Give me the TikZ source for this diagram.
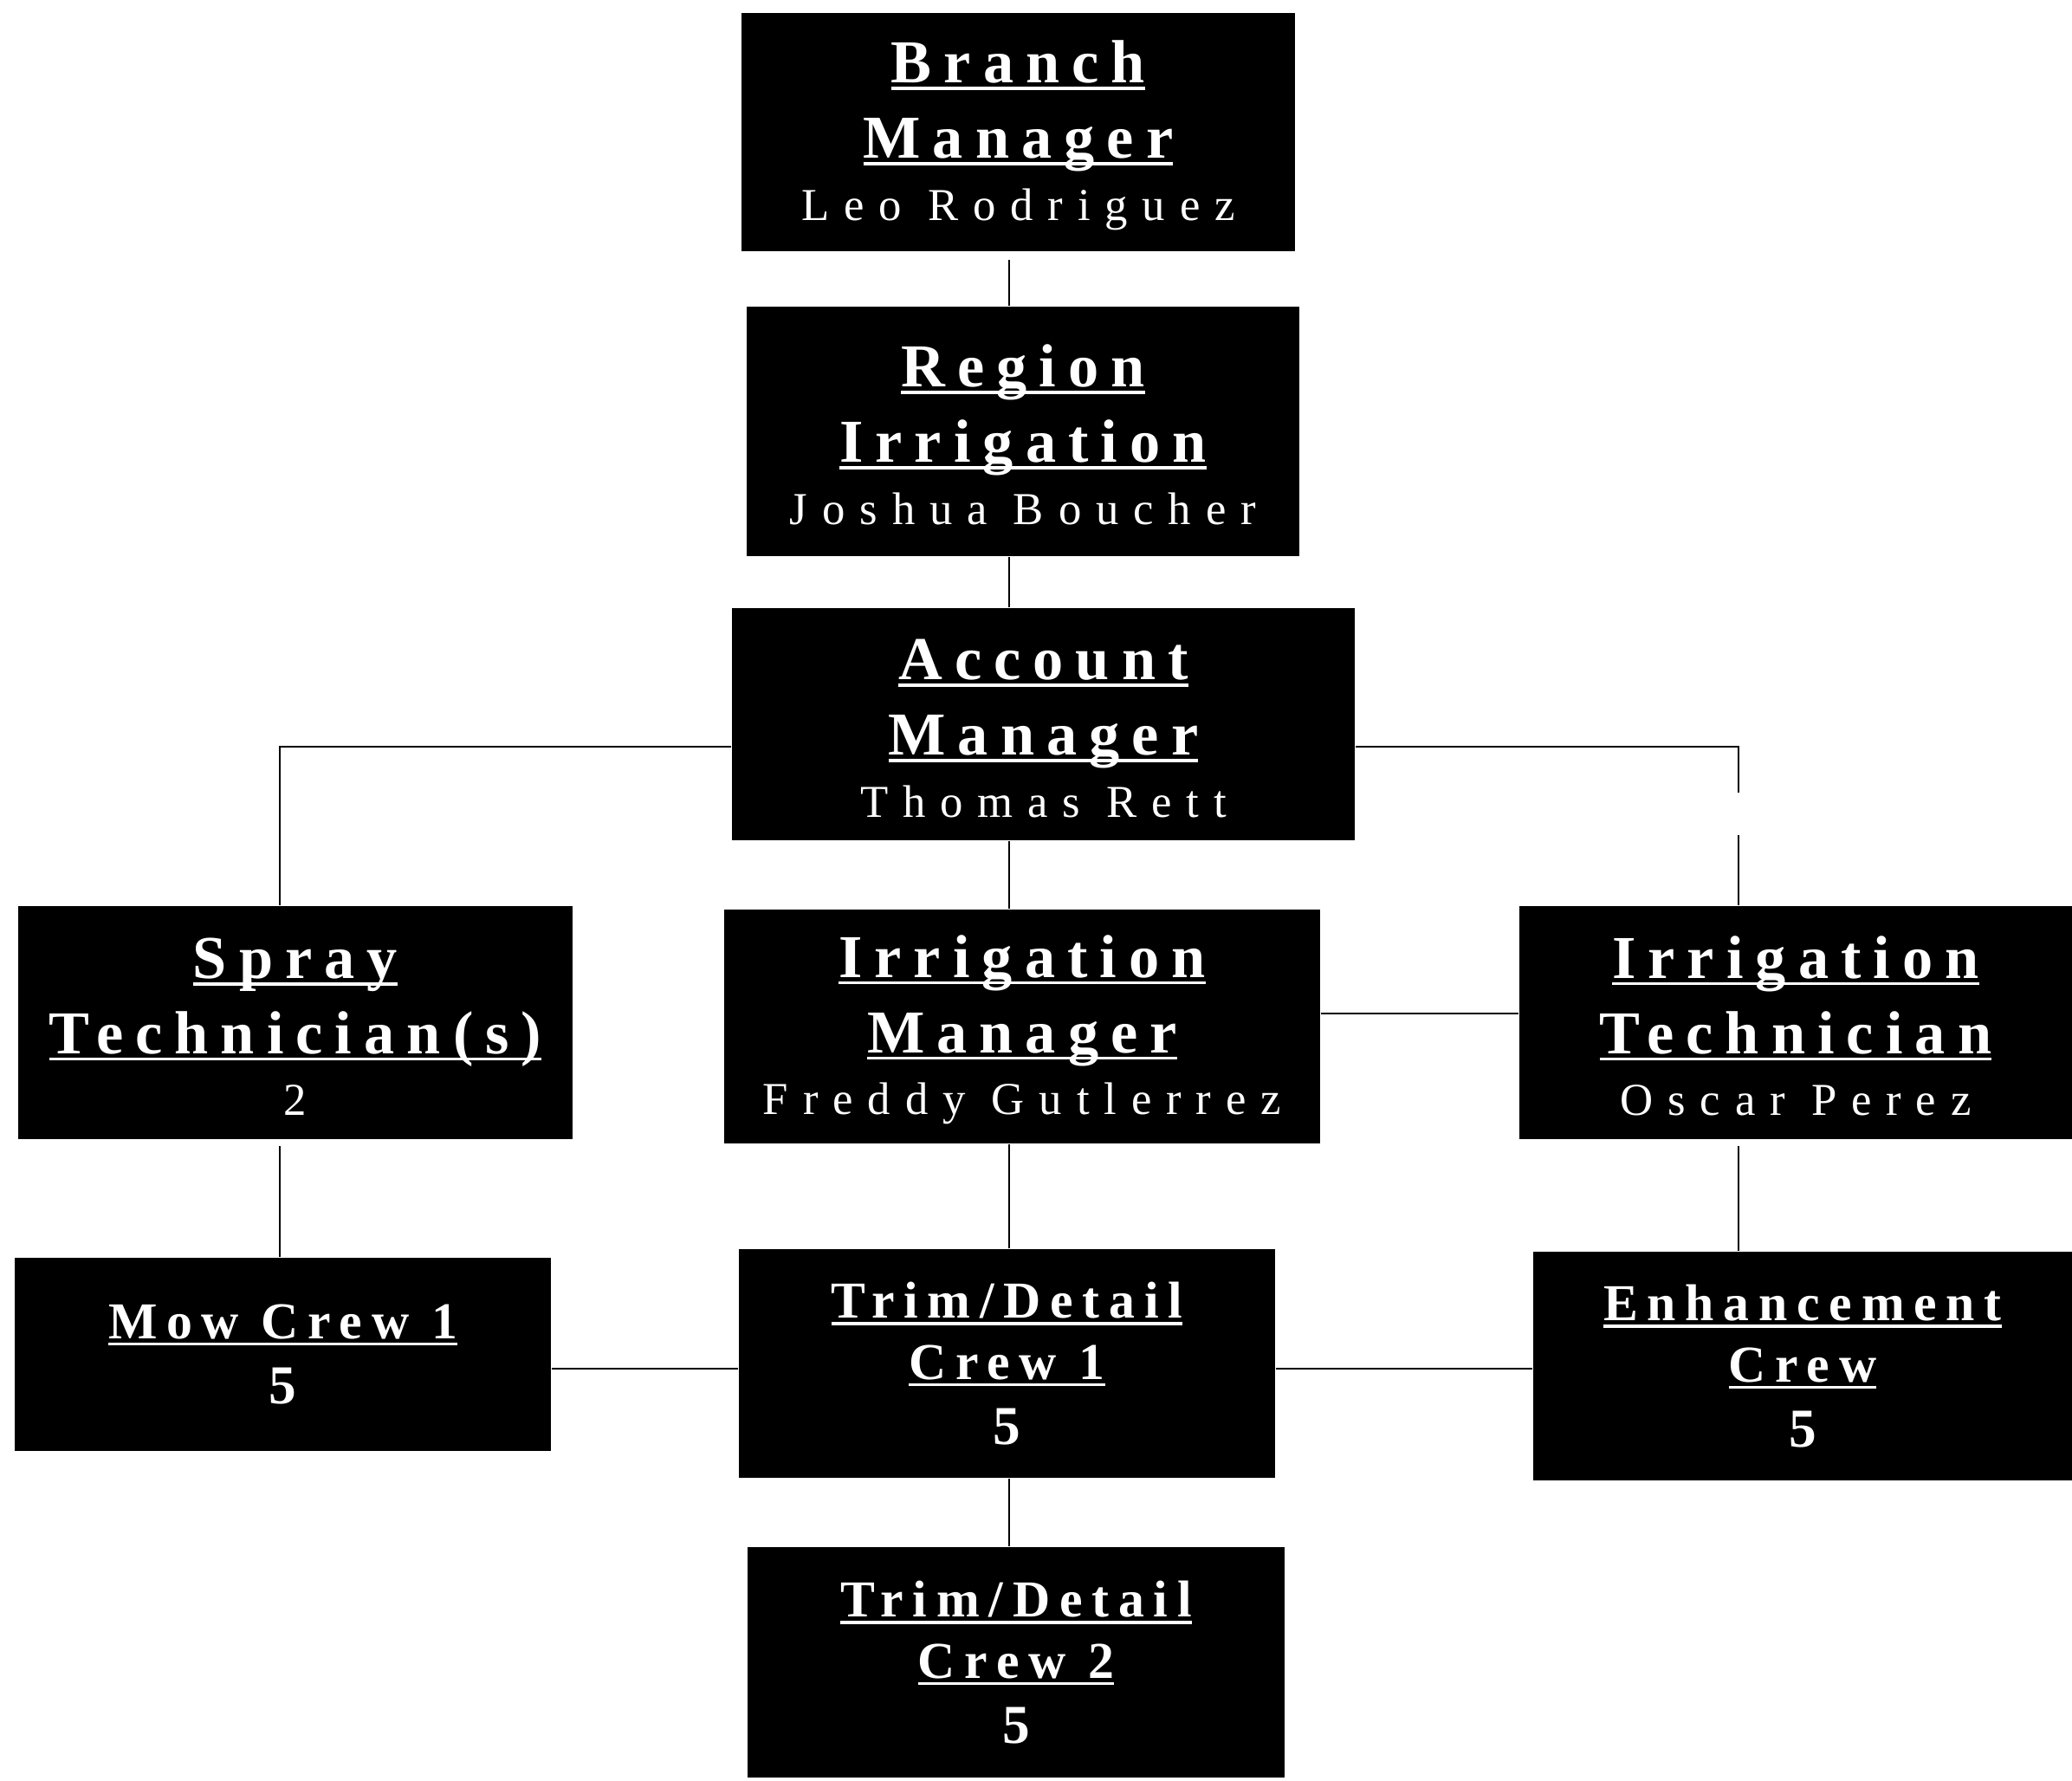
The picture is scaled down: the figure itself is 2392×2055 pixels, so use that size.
\documentclass[tikz,border=0pt]{standalone}
\usepackage{fontspec}
\setmainfont{Liberation Serif}
\newfontfamily\titlefont[LetterSpace=20]{Liberation Serif}
\newfontfamily\namefont[LetterSpace=32]{Liberation Serif}
\newfontfamily\crewfont[LetterSpace=18]{Liberation Serif}
\usetikzlibrary{positioning}
\newsavebox\hdbox
\newcommand\hd[1]{\sbox\hdbox{#1}\rlap{\rule[-2.3pt]{\wd\hdbox}{1pt}}\usebox\hdbox}
\newcommand\lift{\rule{0pt}{16pt}}
\newcommand\who[1]{{\namefont\mdseries\fontsize{15}{18}\selectfont #1}}
\newcommand\cnt[1]{{\fontsize{18}{20}\selectfont #1}}

\begin{document}
\begin{tikzpicture}[x=0.01cm,y=-0.01cm]
\tikzstyle{post}=[rectangle,fill=black,text=white,inner sep=0pt,align=center,
font=\titlefont\bfseries\fontsize{20}{24.7}\selectfont]
\tikzstyle{crew}=[rectangle,fill=black,text=white,inner sep=0pt,align=center,
font=\crewfont\bfseries\fontsize{17}{20}\selectfont]
\tikzstyle{link}=[line width=0.8pt]

\useasboundingbox (0,0) rectangle (2392,2055);

% management
\node[post,minimum width=6.39cm,minimum height=2.75cm] at (1175.5,152.5) (bm)
 {\lift\hd{Branch}\\ \hd{Manager}\\[-4.4pt] \who{Leo Rodriguez}};
\node[post,minimum width=6.38cm,minimum height=2.88cm] at (1181,498) (ri)
 {\lift\hd{Region}\\ \hd{Irrigation}\\[-4.4pt] \who{Joshua Boucher}};
\node[post,minimum width=7.19cm,minimum height=2.68cm] at (1204.5,836) (am)
 {\lift\hd{Account}\\ \hd{Manager}\\[-4.4pt] \who{Thomas Rett}};

% second row
\node[post,minimum width=6.40cm,minimum height=2.69cm] at (341,1180.5) (st)
 {\lift\hd{Spray}\\ \hd{Technician(s)}\\[-4.4pt] \who{2}};
\node[post,minimum width=6.88cm,minimum height=2.70cm] at (1180,1185) (im)
 {\lift\hd{Irrigation}\\ \hd{Manager}\\[-4.4pt] \who{Freddy Gutlerrez}};
\node[post,minimum width=6.38cm,minimum height=2.69cm] at (2073,1180.5) (it)
 {\lift\hd{Irrigation}\\ \hd{Technician}\\[-4.4pt] \who{Oscar Perez}};

% crews
\node[crew,minimum width=6.19cm,minimum height=2.23cm] at (326.5,1563.5) (mc)
 {\hd{Mow Crew 1}\\[1.5pt] \cnt{5}};
\node[crew,minimum width=6.19cm,minimum height=2.64cm] at (1162.5,1574) (tc1)
 {\hd{Trim/Detail}\\ \hd{Crew 1}\\[1.3pt] \cnt{5}};
\node[crew,minimum width=6.22cm,minimum height=2.64cm] at (2081,1577) (ec)
 {\hd{Enhancement}\\ \hd{Crew}\\[1.3pt] \cnt{5}};
\node[crew,minimum width=6.20cm,minimum height=2.66cm] at (1173,1919) (tc2)
 {\hd{Trim/Detail}\\ \hd{Crew 2}\\[1.3pt] \cnt{5}};

% connector rails
\coordinate (spine) at (1165,0);
\coordinate (lbr) at (323,862);
\coordinate (gapA) at (2007,915);
\coordinate (gapB) at (2007,964);
\coordinate (midrow) at (0,1170);
\coordinate (lowrow) at (0,1580);

\draw[link,shorten <=2.5pt] (spine |- bm.south) -- (spine |- ri.north);
\draw[link] (spine |- ri.south) -- (spine |- am.north);
\draw[link] (spine |- am.south) -- (spine |- im.north);
\draw[link] (spine |- im.south) -- (spine |- tc1.north);
\draw[link] (spine |- tc1.south) -- (spine |- tc2.north);
\draw[link] (am.west |- lbr) -- (lbr) -- (lbr |- st.north);
\draw[link] (am.east |- lbr) -| (gapA);
\draw[link] (gapB) -- (gapB |- it.north);
\draw[link] (im.east |- midrow) -- (it.west |- midrow);
\draw[link,shorten <=2pt] (lbr |- st.south) -- (lbr |- mc.north);
\draw[link,shorten <=2pt] (gapB |- it.south) -- (gapB |- ec.north);
\draw[link] (mc.east |- lowrow) -- (tc1.west |- lowrow);
\draw[link] (tc1.east |- lowrow) -- (ec.west |- lowrow);
\end{tikzpicture}
\end{document}
